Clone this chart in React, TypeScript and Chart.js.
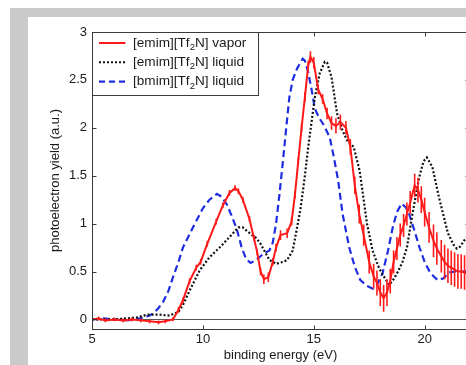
import React, { useEffect, useRef } from "react";
import { Chart, registerables } from "chart.js";

Chart.register(...registerables);

const FONT = "'Liberation Sans', Arial, sans-serif";

const xTicks = [5, 10, 15, 20];
const yTicks = [0, 0.5, 1, 1.5, 2, 2.5, 3];
const xTitle = "binding energy (eV)";
const yTitle = "photoelectron yield (a.u.)";
const seriesNames = ["[emim][Tf₂N] vapor", "[emim][Tf₂N] liquid", "[bmim][Tf₂N] liquid"];

// [emim][Tf2N] vapor (red, with error bars)
const vaporX = [5.0, 5.3, 5.6, 6.0, 6.4, 6.8, 7.2, 7.6, 8.0, 8.3, 8.65, 8.9, 9.1, 9.4, 9.7, 9.9, 10.2, 10.6, 10.9, 11.2, 11.45, 11.6, 11.8, 12.1, 12.3, 12.45, 12.6, 12.75, 12.95, 13.15, 13.3, 13.5, 13.8, 14.0, 14.15, 14.3, 14.45, 14.6, 14.75, 14.85, 15.0, 15.2, 15.4, 15.6, 15.8, 16.0, 16.2, 16.45, 16.65, 16.85, 17.05, 17.25, 17.5, 17.7, 17.85, 18.0, 18.15, 18.3, 18.45, 18.6, 18.75, 18.9, 19.05, 19.2, 19.35, 19.55, 19.7, 19.85, 20.0, 20.2, 20.4, 20.55, 20.75, 20.9, 21.05, 21.2, 21.35, 21.5, 21.65, 21.8, 21.95];
const vaporY = [0.0, 0.01, -0.01, 0.0, -0.01, 0.0, -0.01, -0.02, -0.03, -0.02, 0.0, 0.1, 0.2, 0.4, 0.54, 0.6, 0.79, 1.02, 1.19, 1.32, 1.37, 1.34, 1.25, 1.05, 0.85, 0.7, 0.5, 0.42, 0.44, 0.6, 0.75, 0.88, 0.9, 1.02, 1.3, 1.65, 2.0, 2.32, 2.65, 2.74, 2.68, 2.4, 2.3, 2.15, 2.05, 2.02, 2.06, 2.0, 1.8, 1.4, 1.1, 0.88, 0.6, 0.45, 0.38, 0.28, 0.22, 0.28, 0.4, 0.6, 0.74, 0.88, 0.98, 1.1, 1.22, 1.4, 1.35, 1.25, 1.12, 0.96, 0.82, 0.74, 0.66, 0.6, 0.56, 0.54, 0.52, 0.5, 0.5, 0.49, 0.48];
const vaporErr = [0.02, 0.02, 0.02, 0.02, 0.02, 0.02, 0.02, 0.02, 0.02, 0.02, 0.02, 0.03, 0.03, 0.03, 0.03, 0.03, 0.03, 0.03, 0.03, 0.03, 0.03, 0.03, 0.03, 0.03, 0.03, 0.03, 0.04, 0.05, 0.05, 0.04, 0.04, 0.05, 0.05, 0.04, 0.04, 0.04, 0.04, 0.05, 0.05, 0.06, 0.06, 0.05, 0.05, 0.06, 0.07, 0.08, 0.08, 0.07, 0.08, 0.09, 0.1, 0.11, 0.12, 0.13, 0.13, 0.14, 0.14, 0.14, 0.13, 0.12, 0.12, 0.12, 0.12, 0.12, 0.12, 0.12, 0.13, 0.14, 0.15, 0.16, 0.17, 0.17, 0.17, 0.18, 0.18, 0.18, 0.18, 0.18, 0.18, 0.18, 0.18];

// [emim][Tf2N] liquid (black dotted)
const emimLiqX = [5.0, 6.0, 7.0, 7.5, 8.0, 8.5, 8.9, 9.1, 9.4, 9.85, 10.3, 10.8, 11.2, 11.6, 11.8, 12.0, 12.4, 12.6, 13.0, 13.3, 13.6, 13.8, 14.05, 14.2, 14.4, 14.6, 14.75, 15.05, 15.27, 15.5, 15.6, 15.8, 16.05, 16.3, 16.5, 16.8, 17.07, 17.25, 17.4, 17.65, 17.9, 18.1, 18.4, 18.6, 18.8, 19.0, 19.2, 19.45, 19.75, 19.95, 20.1, 20.35, 20.65, 21.05, 21.3, 21.45, 21.6, 21.8, 22.0];
const emimLiqY = [0.0, 0.0, 0.02, 0.05, 0.05, 0.04, 0.08, 0.15, 0.3, 0.51, 0.65, 0.76, 0.86, 0.96, 0.96, 0.92, 0.85, 0.79, 0.62, 0.58, 0.6, 0.62, 0.72, 0.9, 1.15, 1.5, 1.8, 2.32, 2.57, 2.69, 2.68, 2.53, 2.15, 1.97, 1.87, 1.8, 1.55, 1.25, 1.0, 0.72, 0.56, 0.47, 0.36, 0.42, 0.5, 0.6, 0.75, 1.1, 1.48, 1.65, 1.69, 1.59, 1.27, 0.9, 0.78, 0.74, 0.76, 0.83, 0.88];

// [bmim][Tf2N] liquid (blue dashed)
const bmimLiqX = [5.0, 5.5, 6.0, 6.5, 7.0, 7.3, 7.6, 7.8, 8.0, 8.2, 8.45, 8.65, 8.9, 9.1, 9.55, 10.0, 10.3, 10.63, 10.85, 11.08, 11.3, 11.53, 11.75, 11.95, 12.15, 12.4, 12.7, 13.0, 13.15, 13.3, 13.45, 13.6, 13.75, 13.9, 14.05, 14.25, 14.5, 14.6, 14.75, 14.9, 15.05, 15.25, 15.45, 15.72, 15.9, 16.1, 16.3, 16.6, 16.85, 17.1, 17.4, 17.66, 17.85, 18.1, 18.35, 18.56, 18.75, 18.96, 19.15, 19.3, 19.55, 19.77, 20.0, 20.2, 20.4, 20.6, 20.85, 21.1, 21.4, 21.8, 22.0];
const bmimLiqY = [0.0, 0.01, 0.0, -0.01, 0.0, 0.02, 0.04, 0.07, 0.12, 0.18, 0.3, 0.44, 0.6, 0.75, 0.96, 1.16, 1.25, 1.31, 1.28, 1.2, 1.08, 0.94, 0.75, 0.63, 0.59, 0.62, 0.68, 0.72, 0.8, 1.0, 1.3, 1.63, 1.98, 2.32, 2.5, 2.62, 2.72, 2.7, 2.58, 2.4, 2.2, 2.1, 2.03, 1.9, 1.7, 1.45, 1.1, 0.75, 0.55, 0.41, 0.35, 0.32, 0.36, 0.48, 0.72, 0.96, 1.12, 1.21, 1.17, 1.1, 0.92, 0.75, 0.6, 0.51, 0.45, 0.41, 0.43, 0.49, 0.5, 0.5, 0.5];

const RED = "#ff1a1a";
const BLACK = "#111111";
const BLUE = "#1f2de0";
const AXIS = "#3a3a3a";

function pts(xs: number[], ys: number[]) {
  return xs.map((x, i) => ({ x, y: ys[i] }));
}

function errSegments(xs: number[], ys: number[], es: number[]) {
  const out: { x: number; y: number | null }[] = [];
  xs.forEach((x, i) => {
    out.push({ x, y: ys[i] - es[i] });
    out.push({ x, y: ys[i] + es[i] });
    out.push({ x, y: null });
  });
  return out;
}

const framePlugin = {
  id: "frame",
  beforeDatasetsDraw(chart: any) {
    const { ctx, chartArea, scales } = chart;
    const y0 = Math.round(scales.y.getPixelForValue(0)) + 0.5;
    ctx.save();
    ctx.strokeStyle = "#555";
    ctx.lineWidth = 1;
    ctx.beginPath();
    ctx.moveTo(chartArea.left, y0);
    ctx.lineTo(chartArea.right, y0);
    ctx.stroke();
    ctx.restore();
  },
  afterDatasetsDraw(chart: any) {
    const { ctx, chartArea, scales } = chart;
    const { left, right, top, bottom } = chartArea;
    const L = Math.round(left) + 0.5;
    const R = Math.round(right) + 0.5;
    const T = Math.round(top) + 0.5;
    const B = Math.round(bottom) + 0.5;
    ctx.save();
    ctx.strokeStyle = AXIS;
    ctx.lineWidth = 1;
    ctx.strokeRect(L, T, R - L, B - T);
    const tl = 4;
    ctx.beginPath();
    xTicks.forEach((v) => {
      const px = Math.round(scales.x.getPixelForValue(v)) + 0.5;
      ctx.moveTo(px, B);
      ctx.lineTo(px, B - tl);
      ctx.moveTo(px, T);
      ctx.lineTo(px, T + tl);
    });
    yTicks.forEach((v) => {
      const py = Math.round(scales.y.getPixelForValue(v)) + 0.5;
      ctx.moveTo(L, py);
      ctx.lineTo(L + tl, py);
      ctx.moveTo(R, py);
      ctx.lineTo(R - tl, py);
    });
    ctx.stroke();
    ctx.restore();
  },
  afterDraw(chart: any) {
    const { ctx, chartArea } = chart;
    const x0 = Math.round(chartArea.left) + 0.5;
    const y0 = Math.round(chartArea.top) + 0.5;
    const w = 166;
    const h = 63;
    ctx.save();
    ctx.fillStyle = "#ffffff";
    ctx.fillRect(x0, y0, w, h);
    ctx.strokeStyle = AXIS;
    ctx.lineWidth = 1;
    ctx.strokeRect(x0, y0, w, h);
    const styles = [
      { color: RED, dash: [] as number[], width: 2 },
      { color: BLACK, dash: [2, 2], width: 2 },
      { color: BLUE, dash: [6, 4], width: 2.2 },
    ];
    seriesNames.forEach((name, i) => {
      const ry = y0 + 10.5 + i * 19.3;
      const st = styles[i];
      ctx.save();
      ctx.strokeStyle = st.color;
      ctx.lineWidth = st.width;
      ctx.setLineDash(st.dash);
      ctx.beginPath();
      ctx.moveTo(x0 + 6.5, ry);
      ctx.lineTo(x0 + 33, ry);
      ctx.stroke();
      ctx.restore();
      const parts = name.split("₂");
      let tx = x0 + 40.5;
      ctx.fillStyle = "#1a1a1a";
      ctx.textBaseline = "middle";
      ctx.textAlign = "left";
      ctx.font = `13.6px ${FONT}`;
      ctx.fillText(parts[0], tx, ry);
      tx += ctx.measureText(parts[0]).width;
      ctx.font = `9.5px ${FONT}`;
      ctx.fillText("2", tx, ry + 4.5);
      tx += ctx.measureText("2").width;
      ctx.font = `13.6px ${FONT}`;
      ctx.fillText(parts[1], tx, ry);
    });
    ctx.restore();
  },
};

export default function App() {
  const ref = useRef<HTMLCanvasElement | null>(null);
  useEffect(() => {
    if (!ref.current) return;
    const chart = new Chart(ref.current, {
      type: "line",
      data: {
        datasets: [
          {
            label: seriesNames[0],
            data: pts(vaporX, vaporY),
            borderColor: RED,
            borderWidth: 2,
            pointRadius: 0,
            tension: 0,
          },
          {
            label: "err",
            data: errSegments(vaporX, vaporY, vaporErr),
            borderColor: RED,
            borderWidth: 1.6,
            pointRadius: 0,
            spanGaps: false,
          },
          {
            label: seriesNames[1],
            data: pts(emimLiqX, emimLiqY),
            borderColor: BLACK,
            borderWidth: 2.2,
            borderDash: [2, 2],
            pointRadius: 0,
          },
          {
            label: seriesNames[2],
            data: pts(bmimLiqX, bmimLiqY),
            borderColor: BLUE,
            borderWidth: 2.2,
            borderDash: [7, 4],
            pointRadius: 0,
          },
        ],
      },
      options: {
        animation: false,
        responsive: false,
        devicePixelRatio: 1,
        layout: { padding: { top: 32, right: 11, left: 0, bottom: 0 } },
        plugins: { legend: { display: false }, tooltip: { enabled: false } },
        scales: {
          x: {
            type: "linear",
            min: 5,
            max: 22,
            grid: { display: false, drawTicks: false },
            border: { display: false },
            afterBuildTicks: (s: any) => {
              s.ticks = xTicks.map((v) => ({ value: v }));
            },
            afterFit: (s: any) => {
              s.height = 36;
            },
            ticks: {
              padding: 3,
              color: "#1a1a1a",
              font: { family: FONT, size: 13 },
              maxRotation: 0,
              callback: (v: any) => String(v),
            },
            title: {
              display: true,
              text: xTitle,
              color: "#1a1a1a",
              font: { family: FONT, size: 13 },
              padding: { top: 0, bottom: 2 },
            },
          },
          y: {
            type: "linear",
            min: -0.1,
            max: 3,
            grid: { display: false, drawTicks: false },
            border: { display: false },
            afterBuildTicks: (s: any) => {
              s.ticks = yTicks.map((v) => ({ value: v }));
            },
            afterFit: (s: any) => {
              s.width = 92;
            },
            ticks: {
              padding: 5,
              color: "#1a1a1a",
              font: { family: FONT, size: 13 },
              callback: (v: any) => String(v),
            },
            title: {
              display: true,
              text: yTitle,
              color: "#1a1a1a",
              font: { family: FONT, size: 13 },
              padding: { top: 48, bottom: 0 },
            },
          },
        },
      },
      plugins: [framePlugin],
    } as any);
    return () => chart.destroy();
  }, []);

  return (
    <div style={{ position: "fixed", left: 0, top: 0, width: 466, height: 365, overflow: "hidden", background: "#ffffff" }}>
      <div style={{ position: "absolute", left: 10, top: 8, right: 0, bottom: 0, background: "#cacaca" }} />
      <div style={{ position: "absolute", left: 28, top: 17, right: 0, bottom: 0, background: "#ffffff" }} />
      <canvas ref={ref} width={480} height={365} style={{ position: "absolute", left: 0, top: 0, display: "block" }} />
    </div>
  );
}
